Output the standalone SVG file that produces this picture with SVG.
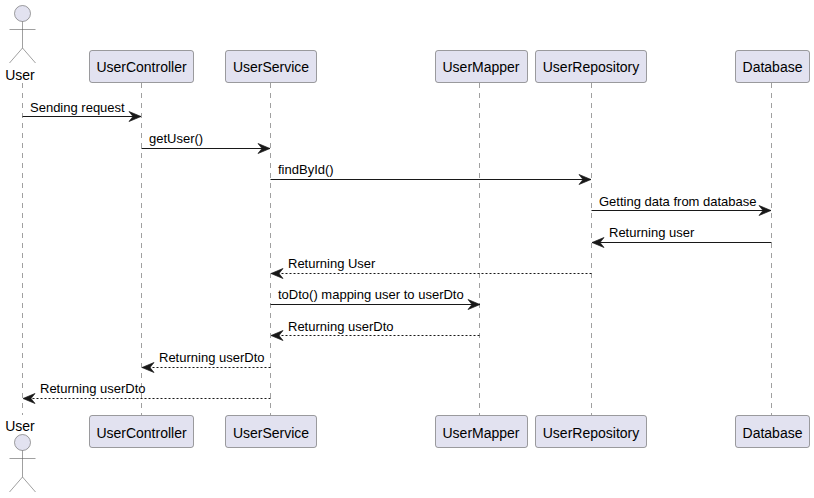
<svg xmlns="http://www.w3.org/2000/svg" width="814" height="498" viewBox="0 0 814 498">
<style>
text{font-family:"Liberation Sans",Arial,sans-serif;fill:#000}
.t{font-size:14px;text-anchor:middle}
.m{font-size:13px}
.box{fill:#E2E2F0;stroke:#5f5f5f;stroke-width:.6}
.act{fill:none;stroke:#5f5f5f;stroke-width:.6}
.head{fill:#E2E2F0;stroke:#5f5f5f;stroke-width:.6}
.life{stroke:#5f5f5f;stroke-width:.6;stroke-dasharray:5 5;fill:none}
.a{stroke:#181818;stroke-width:1;fill:none}
.d{stroke-dasharray:2 2}
</style>
<defs>
<marker id="ah" markerUnits="userSpaceOnUse" markerWidth="16" markerHeight="14" refX="13" refY="7" orient="auto"><path d="M1 2 L13 7 L1 12 L5 7 Z" fill="#181818" stroke="#181818" stroke-width=".7" stroke-linejoin="miter"/></marker>
</defs>
<g id="lifelines">
<path class="life" d="M22.500 83V415"/>
<path class="life" d="M141.500 83V415"/>
<path class="life" d="M270.500 83V415"/>
<path class="life" d="M479.500 83V415"/>
<path class="life" d="M591.500 83V415"/>
<path class="life" d="M771.500 83V415"/>
</g>
<g id="connectors">
<path class="a" marker-end="url(#ah)" d="M22.500 116.500H141"/>
<path class="a" marker-end="url(#ah)" d="M141.500 148.500H270"/>
<path class="a" marker-end="url(#ah)" d="M270.500 179.500H591"/>
<path class="a" marker-end="url(#ah)" d="M591.500 210.500H771"/>
<path class="a" marker-end="url(#ah)" d="M771.500 242.500H592"/>
<path class="a d" marker-end="url(#ah)" d="M591.500 273.500H271"/>
<path class="a" marker-end="url(#ah)" d="M270.500 304.500H480"/>
<path class="a d" marker-end="url(#ah)" d="M479.500 335.500H271"/>
<path class="a d" marker-end="url(#ah)" d="M270.500 367.500H142"/>
<path class="a d" marker-end="url(#ah)" d="M270.500 398.500H23"/>
</g>
<g id="labels">
<text class="m" x="30" y="112">Sending request</text>
<text class="m" x="149" y="143">getUser()</text>
<text class="m" x="278" y="174">findById()</text>
<text class="m" x="599" y="206">Getting data from database</text>
<text class="m" x="609" y="237">Returning user</text>
<text class="m" x="288" y="268">Returning User</text>
<text class="m" x="278" y="299">toDto() mapping user to userDto</text>
<text class="m" x="288" y="331">Returning userDto</text>
<text class="m" x="159" y="362">Returning userDto</text>
<text class="m" x="40" y="393">Returning userDto</text>
</g>
<g id="actor-top">
<circle class="head" cx="22.500" cy="13.500" r="8"/>
<path class="act" d="M22.500 21.500V48M9.500 29.500H35.500M22.500 48L9.500 63M22.500 48L35.500 63"/>
<text class="t" x="20" y="80">User</text>
</g>
<g id="actor-bottom">
<text class="t" x="20" y="431">User</text>
<circle class="head" cx="22.500" cy="442.500" r="8"/>
<path class="act" d="M22.500 450.500V477M9.500 458.500H35.500M22.500 477L9.500 492M22.500 477L35.500 492"/>
</g>
<g id="UserController-top"><rect class="box" x="89.500" y="50.500" width="104" height="32" rx="2.500"/><text class="t" x="141.500" y="72">UserController</text></g>
<g id="UserService-top"><rect class="box" x="225.500" y="50.500" width="91" height="32" rx="2.500"/><text class="t" x="271" y="72">UserService</text></g>
<g id="UserMapper-top"><rect class="box" x="435.500" y="50.500" width="92" height="32" rx="2.500"/><text class="t" x="481" y="72">UserMapper</text></g>
<g id="UserRepository-top"><rect class="box" x="535.500" y="50.500" width="111" height="32" rx="2.500"/><text class="t" x="591" y="72">UserRepository</text></g>
<g id="Database-top"><rect class="box" x="735.500" y="50.500" width="74" height="32" rx="2.500"/><text class="t" x="772.500" y="72">Database</text></g>
<g id="UserController-bottom"><rect class="box" x="89.500" y="415.500" width="104" height="32" rx="2.500"/><text class="t" x="141.500" y="438">UserController</text></g>
<g id="UserService-bottom"><rect class="box" x="225.500" y="415.500" width="91" height="32" rx="2.500"/><text class="t" x="271" y="438">UserService</text></g>
<g id="UserMapper-bottom"><rect class="box" x="435.500" y="415.500" width="92" height="32" rx="2.500"/><text class="t" x="481" y="438">UserMapper</text></g>
<g id="UserRepository-bottom"><rect class="box" x="535.500" y="415.500" width="111" height="32" rx="2.500"/><text class="t" x="591" y="438">UserRepository</text></g>
<g id="Database-bottom"><rect class="box" x="735.500" y="415.500" width="74" height="32" rx="2.500"/><text class="t" x="772.500" y="438">Database</text></g>
</svg>
